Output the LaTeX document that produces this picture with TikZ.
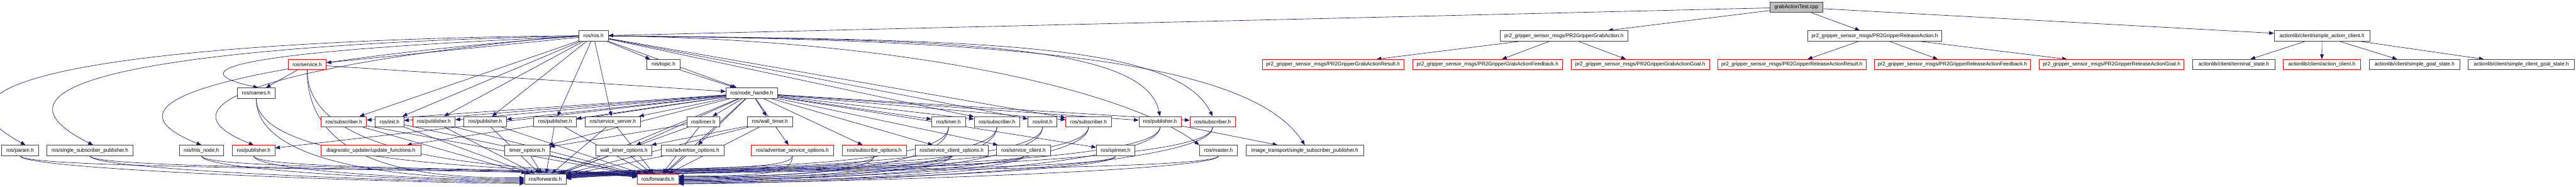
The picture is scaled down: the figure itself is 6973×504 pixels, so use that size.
\documentclass[tikz,border=0pt]{standalone}
\usepackage{fontspec}
\setmainfont{Liberation Sans}
\usetikzlibrary{arrows.meta,backgrounds}
\definecolor{edgeblue}{RGB}{25,25,112}
\definecolor{srcgray}{RGB}{191,191,191}
\definecolor{boxline}{RGB}{64,64,64}

% one header box: name, left x, right x, row y, extra style, label
\newcommand{\incnode}[6]{%
  \node[hdr,#5,minimum width={(#3-#2)*1pt}] (#1) at ({(#2+#3)/2},#4) {#6};}

\begin{document}
\begin{tikzpicture}[x=1pt,y=1pt,
  hdr/.style={draw=boxline,fill=white,line width=1.3pt,inner sep=0pt,
    minimum height=28pt,font=\fontsize{14}{16}\selectfont},
  trunc/.style={draw=red},
  src/.style={fill=srcgray},
  inc/.style={color=edgeblue,line width=1.1pt,-{Triangle[length=13pt,width=10pt]}}]
\useasboundingbox (0,0) rectangle (6973,504);
% the source file
\incnode{cpp}{4791}{4934}{484.3}{src}{grabActionTest.cpp}
% first level
\incnode{ros}{1567}{1646}{407}{}{ros/ros.h}
\incnode{grab}{4061}{4406}{407}{}{pr2\_gripper\_sensor\_msgs/PR2GripperGrabAction.h}
\incnode{rel}{4893}{5256}{407}{}{pr2\_gripper\_sensor\_msgs/PR2GripperReleaseAction.h}
\incnode{sac}{6156}{6415}{407}{}{actionlib/client/simple\_action\_client.h}
% second level
\incnode{service}{780}{883}{329.3}{trunc}{ros/service.h}
\incnode{topic}{1751}{1841}{329.3}{}{ros/topic.h}
\incnode{grabres}{3417}{3800}{329.3}{trunc}{pr2\_gripper\_sensor\_msgs/PR2GripperGrabActionResult.h}
\incnode{grabfb}{3824}{4229}{329.3}{trunc}{pr2\_gripper\_sensor\_msgs/PR2GripperGrabActionFeedback.h}
\incnode{grabgoal}{4253}{4627}{329.3}{trunc}{pr2\_gripper\_sensor\_msgs/PR2GripperGrabActionGoal.h}
\incnode{relres}{4650}{5051}{329.3}{trunc}{pr2\_gripper\_sensor\_msgs/PR2GripperReleaseActionResult.h}
\incnode{relfb}{5074}{5496}{329.3}{trunc}{pr2\_gripper\_sensor\_msgs/PR2GripperReleaseActionFeedback.h}
\incnode{relgoal}{5520}{5912}{329.3}{trunc}{pr2\_gripper\_sensor\_msgs/PR2GripperReleaseActionGoal.h}
\incnode{term}{5935}{6158}{329.3}{}{actionlib/client/terminal\_state.h}
\incnode{ac}{6180}{6390}{329.3}{trunc}{actionlib/client/action\_client.h}
\incnode{sgs}{6413}{6659}{329.3}{}{actionlib/client/simple\_goal\_state.h}
\incnode{scgs}{6681}{6969}{329.3}{}{actionlib/client/simple\_client\_goal\_state.h}
% third level
\incnode{names}{642}{745}{252.3}{}{ros/names.h}
\incnode{nh}{1965}{2105}{252.3}{}{ros/node\_handle.h}
% fourth level
\incnode{subA}{869}{992}{175}{trunc}{ros/subscriber.h}
\incnode{initA}{1016}{1093}{175}{}{ros/init.h}
\incnode{pubA}{1117}{1232}{175}{trunc}{ros/publisher.h}
\incnode{pubB}{1256}{1371}{175}{}{ros/publisher.h}
\incnode{pubC}{1445}{1560}{175}{}{ros/publisher.h}
\incnode{srvsrv}{1584}{1733}{175}{}{ros/service\_server.h}
\incnode{timerA}{1859}{1949}{175}{}{ros/timer.h}
\incnode{wtimer}{2023}{2145}{175}{}{ros/wall\_timer.h}
\incnode{timerB}{2522}{2613}{175}{trunc}{ros/timer.h}
\incnode{subB}{2637}{2760}{175}{trunc}{ros/subscriber.h}
\incnode{initB}{2783}{2861}{175}{}{ros/init.h}
\incnode{subC}{2885}{3008}{175}{trunc}{ros/subscriber.h}
\incnode{pubD}{3083}{3197}{175}{trunc}{ros/publisher.h}
\incnode{subD}{3221}{3344}{175}{trunc}{ros/subscriber.h}
% fifth level
\incnode{param}{4}{105}{97.3}{}{ros/param.h}
\incnode{ssp}{127}{360}{97.3}{}{ros/single\_subscriber\_publisher.h}
\incnode{thisnode}{485}{605}{97.3}{}{ros/this\_node.h}
\incnode{pubE}{629}{744}{97.3}{trunc}{ros/publisher.h}
\incnode{upd}{869}{1139}{97.3}{trunc}{diagnostic\_updater/update\_functions.h}
\incnode{topts}{1366}{1488}{97.3}{}{timer\_options.h}
\incnode{wtopts}{1613}{1765}{97.3}{}{wall\_timer\_options.h}
\incnode{advopts}{1789}{1960}{97.3}{}{ros/advertise\_options.h}
\incnode{advsrvopts}{2034}{2256}{97.3}{trunc}{ros/advertise\_service\_options.h}
\incnode{subopts}{2280}{2453}{97.3}{trunc}{ros/subscribe\_options.h}
\incnode{scopts}{2477}{2675}{97.3}{}{ros/service\_client\_options.h}
\incnode{sclient}{2698}{2843}{97.3}{}{ros/service\_client.h}
\incnode{spinner}{2968}{3072}{97.3}{}{ros/spinner.h}
\incnode{master}{3247}{3350}{97.3}{}{ros/master.h}
\incnode{itssp}{3373}{3691}{97.3}{}{image\_transport/single\_subscriber\_publisher.h}
% bottom level
\incnode{fwdA}{1420}{1532}{20}{}{ros/forwards.h}
\incnode{fwdB}{1725}{1837}{20}{trunc}{ros/forwards.h}

\begin{scope}[on background layer]
\fill[white] (0,0) rectangle (6973,504);
% includes of the test file and the message headers
\foreach \t in {ros,grab,rel,sac} \draw[inc] (cpp) -- (\t);
\foreach \t in {grabres,grabfb,grabgoal} \draw[inc] (grab) -- (\t);
\foreach \t in {relres,relfb,relgoal} \draw[inc] (rel) -- (\t);
\foreach \t in {term,ac,sgs,scgs} \draw[inc] (sac) -- (\t);
% ros/ros.h
\foreach \t in {service,topic,nh,subA,initA,pubA,pubB,pubC,srvsrv,subB,initB,subC}
  \draw[inc] (ros) -- (\t);
\foreach \t/\a/\c/\d in {param.45/-600/450/320,ssp.60/-600/350/300,
    thisnode.north/-500/60/200,pubE.north/-450/-40/180,names.70/-450/150/100}
  \draw[inc] (ros.west) .. controls +(\c,0) and +(\a,\d) .. (\t);
\foreach \t/\c/\a/\d in {master.north west/800/-200/150,pubD.north/900/-40/200,
    subD.north/1000/-100/200,itssp.north/1100/-150/230}
  \draw[inc] (ros.east) .. controls +(\c,-10) and +(\a,\d) .. (\t);
% ros/node_handle.h
\foreach \t in {subA,initA,pubA,pubB,pubC,srvsrv,pubE,upd,topts,wtopts,advopts,
    advsrvopts,subopts,scopts,sclient,timerA,wtimer,timerB,subB,subC,pubD,subD,spinner}
  \draw[inc] (nh) -- (\t);
\draw[inc] (service) -- (names);
\draw[inc] (service) -- (nh);
\draw[inc] (topic) -- (nh);
\draw[inc] (timerA) -- (topts);
\draw[inc] (wtimer) -- (wtopts);
\draw[inc] (pubD) -- (itssp);
% everything down to ros/forwards.h
\foreach \n/\h/\a/\b in {param/40/192/175,ssp/40/189/174,thisnode/40/186/173,
    pubE/40/183/172,names/195/180/171,service/272/177/170}
{
  \draw[inc] (\n.south) .. controls +(0,-\h) and +(-250,0) .. (fwdA.\a);
  \draw[inc] (\n.south) .. controls +(0,-\h) and +(-250,25) .. (fwdB.\b);
}
\foreach \n in {subA,initA,pubA,pubB,pubC,srvsrv,topts,wtopts,advopts,timerA,nh,wtimer}
{
  \draw[inc] (\n) -- (fwdA);
  \draw[inc] (\n) -- (fwdB);
}
\foreach \n/\h/\a/\b in {advsrvopts/45/8/12,subopts/45/6/11,timerB/120/4/10,
    scopts/45/2/9,subB/120/0/8,sclient/45/-2/7,initB/120/-4/6,subC/120/-6/5,
    spinner/45/-8/4,pubD/120/-10/3,master/45/-12/2,subD/120/-13/1}
{
  \draw[inc] (\n.south) .. controls +(0,-\h) and +(250,0) .. (fwdB.\a);
  \draw[inc] (\n.south) .. controls +(0,-\h) and +(250,25) .. (fwdA.\b);
}
\end{scope}
\end{tikzpicture}
\end{document}
